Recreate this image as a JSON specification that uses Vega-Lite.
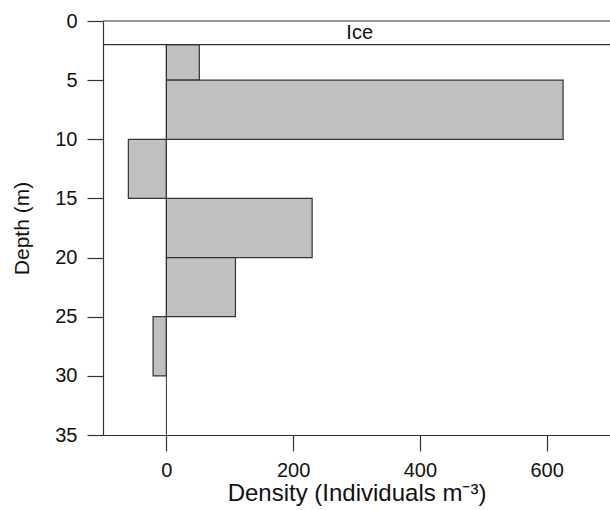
{
  "$schema": "https://vega.github.io/schema/vega-lite/v6.json",
  "autosize": {"type": "none"},
  "width": 507,
  "height": 414,
  "padding": {"left": 103, "top": 21, "right": 0, "bottom": 75},
  "background": "white",
  "config": {
    "view": {"stroke": null},
    "font": "Liberation Sans",
    "axis": {
      "domainColor": "#333",
      "tickColor": "#333",
      "labelColor": "#111",
      "titleColor": "#111",
      "labelFont": "Liberation Sans",
      "titleFont": "Liberation Sans",
      "labelFontSize": 20,
      "titleFontWeight": "normal",
      "grid": false,
      "tickSize": 16,
      "domainWidth": 1.2,
      "tickWidth": 1.2
    }
  },
  "datasets": {
    "bars": [
      {"top": 2, "bottom": 5, "density": 52},
      {"top": 5, "bottom": 10, "density": 626},
      {"top": 10, "bottom": 15, "density": -60},
      {"top": 15, "bottom": 20, "density": 230},
      {"top": 20, "bottom": 25, "density": 109},
      {"top": 25, "bottom": 30, "density": -21}
    ],
    "ice": [
      {"depth": 0},
      {"depth": 2}
    ]
  },
  "layer": [
    {
      "data": {"name": "bars"},
      "mark": {"type": "bar", "fill": "#c0c0c0", "stroke": "#333", "strokeWidth": 1.2},
      "encoding": {
        "x": {
          "field": "density",
          "type": "quantitative",
          "scale": {"domain": [-100, 700], "nice": false, "zero": false},
          "axis": {
            "values": [0, 200, 400, 600],
            "title": "Density (Individuals m⁻³)",
            "titleFontSize": 24,
            "labelPadding": 9,
            "titlePadding": 1
          }
        },
        "x2": {"datum": 0},
        "y": {
          "field": "top",
          "type": "quantitative",
          "scale": {"domain": [0, 35], "reverse": true, "nice": false, "zero": false},
          "axis": {
            "values": [0, 5, 10, 15, 20, 25, 30, 35],
            "title": "Depth (m)",
            "titleFontSize": 21,
            "labelPadding": 10,
            "titlePadding": 22
          }
        },
        "y2": {"field": "bottom"}
      }
    },
    {
      "data": {"name": "ice"},
      "mark": {"type": "rule", "color": "#333", "strokeWidth": 1.2},
      "encoding": {
        "y": {"field": "depth", "type": "quantitative"}
      }
    },
    {
      "data": {"values": [{"d": 0}]},
      "mark": {"type": "rule", "color": "#333", "strokeWidth": 1},
      "encoding": {
        "x": {"datum": 0, "type": "quantitative"},
        "y": {"datum": 2, "type": "quantitative"},
        "y2": {"datum": 35}
      }
    },
    {
      "data": {"values": [{"label": "Ice", "x": 305, "depth": 1}]},
      "mark": {"type": "text", "fontSize": 20, "color": "#111", "baseline": "middle", "align": "center"},
      "encoding": {
        "text": {"field": "label"},
        "x": {"field": "x", "type": "quantitative"},
        "y": {"field": "depth", "type": "quantitative"}
      }
    }
  ]
}
